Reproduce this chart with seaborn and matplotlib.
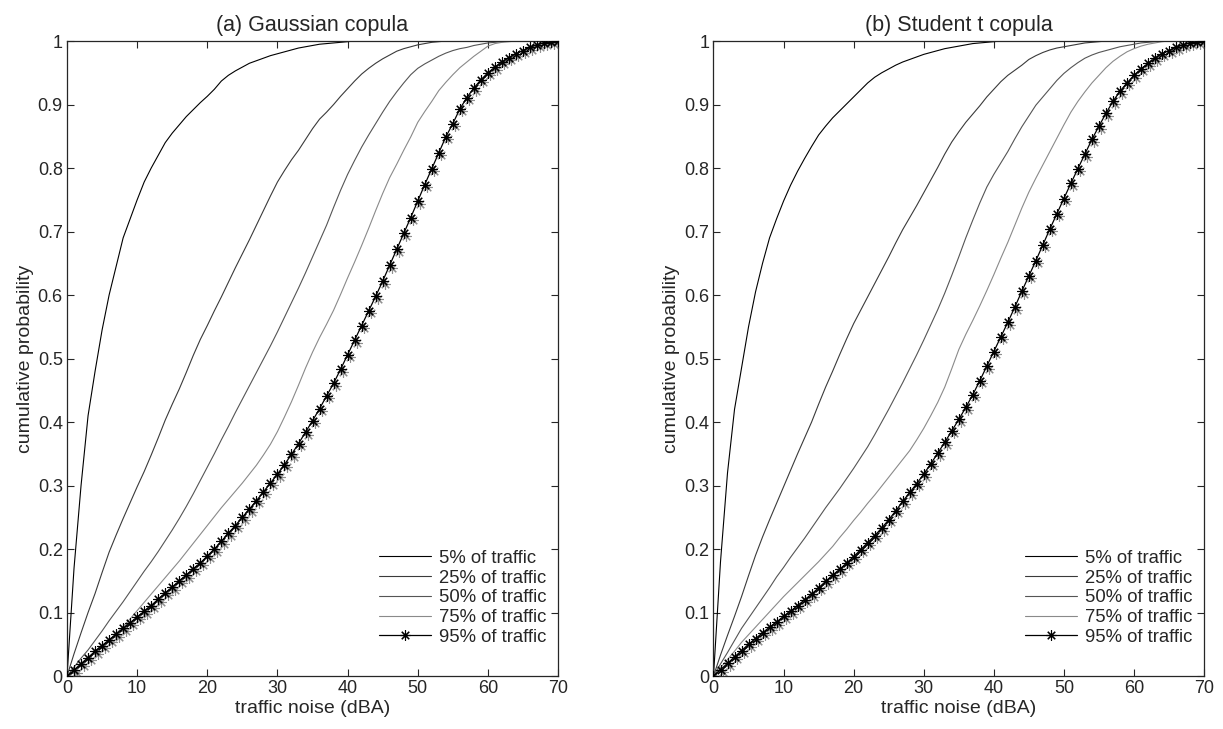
import numpy as np
import matplotlib
matplotlib.use("Agg")
import matplotlib.pyplot as plt
import seaborn as sns
from matplotlib.transforms import offset_copy
from matplotlib.ticker import FuncFormatter

# traffic noise levels (dBA), one sample per dBA
noise_db = np.arange(0, 71)

labels = ["5% of traffic", "25% of traffic", "50% of traffic",
          "75% of traffic", "95% of traffic"]
titles = ["(a) Gaussian copula", "(b) Student t copula"]

# (a) Gaussian copula - cumulative probability
gauss_5 = [0.0, 0.17, 0.30, 0.41, 0.48, 0.545, 0.60, 0.645, 0.69, 0.72,
           0.75, 0.778, 0.80, 0.82, 0.84, 0.855, 0.868, 0.881, 0.892, 0.903,
           0.913, 0.924, 0.937, 0.946, 0.953, 0.959, 0.965, 0.969, 0.973, 0.977,
           0.98, 0.983, 0.986, 0.989, 0.991, 0.993, 0.995, 0.996, 0.997, 0.998,
           0.999, 1.0, 1.0, 1.0, 1.0, 1.0, 1.0, 1.0, 1.0, 1.0,
           1.0, 1.0, 1.0, 1.0, 1.0, 1.0, 1.0, 1.0, 1.0, 1.0,
           1.0, 1.0, 1.0, 1.0, 1.0, 1.0, 1.0, 1.0, 1.0, 1.0,
           1.0]
gauss_25 = [0.0, 0.035, 0.068, 0.10, 0.13, 0.163, 0.195, 0.222, 0.248, 0.273,
            0.298, 0.322, 0.348, 0.375, 0.403, 0.428, 0.452, 0.478, 0.505, 0.53,
            0.552, 0.575, 0.597, 0.62, 0.643, 0.665, 0.687, 0.71, 0.733, 0.756,
            0.778, 0.796, 0.813, 0.828, 0.845, 0.862, 0.877, 0.888, 0.90, 0.913,
            0.925, 0.937, 0.948, 0.957, 0.965, 0.972, 0.978, 0.984, 0.988, 0.991,
            0.994, 0.996, 0.998, 0.999, 1.0, 1.0, 1.0, 1.0, 1.0, 1.0,
            1.0, 1.0, 1.0, 1.0, 1.0, 1.0, 1.0, 1.0, 1.0, 1.0,
            1.0]
gauss_50 = [0.0, 0.014, 0.028, 0.041, 0.056, 0.071, 0.087, 0.102, 0.117, 0.133,
            0.149, 0.165, 0.18, 0.196, 0.213, 0.23, 0.248, 0.267, 0.287, 0.308,
            0.329, 0.35, 0.372, 0.393, 0.415, 0.436, 0.457, 0.478, 0.499, 0.52,
            0.542, 0.565, 0.588, 0.611, 0.635, 0.66, 0.685, 0.71, 0.738, 0.765,
            0.79, 0.812, 0.833, 0.852, 0.87, 0.888, 0.905, 0.92, 0.934, 0.947,
            0.957, 0.964, 0.97, 0.976, 0.981, 0.985, 0.988, 0.99, 0.993, 0.995,
            0.997, 0.998, 0.999, 1.0, 1.0, 1.0, 1.0, 1.0, 1.0, 1.0,
            1.0]
gauss_75 = [0.0, 0.01, 0.02, 0.029, 0.038, 0.047, 0.056, 0.067, 0.078, 0.09,
            0.103, 0.116, 0.129, 0.142, 0.155, 0.168, 0.181, 0.195, 0.209, 0.223,
            0.237, 0.251, 0.265, 0.278, 0.291, 0.304, 0.318, 0.332, 0.348, 0.365,
            0.385, 0.408, 0.432, 0.458, 0.485, 0.51, 0.533, 0.554, 0.576, 0.601,
            0.627, 0.652, 0.678, 0.705, 0.733, 0.76, 0.785, 0.806, 0.828, 0.849,
            0.872, 0.889, 0.905, 0.922, 0.935, 0.947, 0.958, 0.967, 0.976, 0.984,
            0.992, 0.996, 0.998, 0.999, 1.0, 1.0, 1.0, 1.0, 1.0, 1.0,
            1.0]
gauss_95 = [0.0, 0.009, 0.019, 0.029, 0.039, 0.048, 0.057, 0.066, 0.075, 0.084,
            0.093, 0.102, 0.111, 0.121, 0.131, 0.14, 0.15, 0.159, 0.169, 0.178,
            0.189, 0.2, 0.212, 0.225, 0.237, 0.25, 0.263, 0.276, 0.29, 0.304,
            0.318, 0.333, 0.349, 0.366, 0.384, 0.402, 0.421, 0.441, 0.461, 0.483,
            0.506, 0.529, 0.552, 0.575, 0.598, 0.622, 0.647, 0.672, 0.697, 0.722,
            0.748, 0.774, 0.799, 0.824, 0.849, 0.87, 0.893, 0.911, 0.926, 0.939,
            0.95, 0.959, 0.967, 0.974, 0.98, 0.985, 0.99, 0.994, 0.997, 0.999,
            1.0]

# (b) Student t copula
t_5 = [0.0, 0.18, 0.32, 0.42, 0.485, 0.55, 0.605, 0.65, 0.69, 0.72,
       0.748, 0.773, 0.795, 0.815, 0.834, 0.852, 0.866, 0.879, 0.89, 0.901,
       0.912, 0.923, 0.934, 0.943, 0.95, 0.956, 0.962, 0.967, 0.971, 0.975,
       0.979, 0.982, 0.985, 0.988, 0.99, 0.992, 0.994, 0.996, 0.997, 0.998,
       0.999, 1.0, 1.0, 1.0, 1.0, 1.0, 1.0, 1.0, 1.0, 1.0,
       1.0, 1.0, 1.0, 1.0, 1.0, 1.0, 1.0, 1.0, 1.0, 1.0,
       1.0, 1.0, 1.0, 1.0, 1.0, 1.0, 1.0, 1.0, 1.0, 1.0,
       1.0]
t_25 = [0.0, 0.033, 0.064, 0.094, 0.125, 0.158, 0.19, 0.219, 0.246, 0.272,
        0.298, 0.324, 0.35, 0.375, 0.4, 0.428, 0.455, 0.48, 0.506, 0.531,
        0.555, 0.576, 0.597, 0.618, 0.639, 0.66, 0.682, 0.703, 0.722, 0.741,
        0.761, 0.781, 0.801, 0.822, 0.841, 0.857, 0.872, 0.885, 0.898, 0.912,
        0.924, 0.936, 0.946, 0.954, 0.962, 0.971, 0.977, 0.982, 0.986, 0.989,
        0.991, 0.993, 0.995, 0.997, 0.998, 0.999, 1.0, 1.0, 1.0, 1.0,
        1.0, 1.0, 1.0, 1.0, 1.0, 1.0, 1.0, 1.0, 1.0, 1.0,
        1.0]
t_50 = [0.0, 0.019, 0.037, 0.056, 0.075, 0.091, 0.107, 0.123, 0.139, 0.156,
        0.171, 0.187, 0.202, 0.217, 0.233, 0.249, 0.265, 0.28, 0.295, 0.311,
        0.327, 0.344, 0.361, 0.38, 0.4, 0.42, 0.441, 0.462, 0.484, 0.506,
        0.529, 0.553, 0.577, 0.603, 0.631, 0.66, 0.69, 0.718, 0.745, 0.77,
        0.79, 0.808, 0.826, 0.846, 0.865, 0.882, 0.899, 0.912, 0.925, 0.938,
        0.949, 0.958, 0.966, 0.973, 0.978, 0.982, 0.985, 0.988, 0.991, 0.993,
        0.995, 0.997, 0.998, 0.999, 1.0, 1.0, 1.0, 1.0, 1.0, 1.0,
        1.0]
t_75 = [0.0, 0.013, 0.026, 0.039, 0.053, 0.065, 0.077, 0.089, 0.101, 0.113,
        0.125, 0.136, 0.147, 0.158, 0.169, 0.18, 0.192, 0.204, 0.218, 0.231,
        0.245, 0.258, 0.272, 0.285, 0.299, 0.313, 0.327, 0.341, 0.355, 0.372,
        0.39, 0.41, 0.431, 0.455, 0.484, 0.514, 0.538, 0.56, 0.583, 0.607,
        0.632, 0.658, 0.683, 0.71, 0.737, 0.762, 0.784, 0.805, 0.826, 0.847,
        0.868, 0.888, 0.905, 0.92, 0.934, 0.946, 0.958, 0.968, 0.976, 0.983,
        0.988, 0.992, 0.995, 0.997, 0.999, 1.0, 1.0, 1.0, 1.0, 1.0,
        1.0]
t_95 = [0.0, 0.01, 0.02, 0.03, 0.04, 0.05, 0.059, 0.068, 0.077, 0.085,
        0.094, 0.102, 0.111, 0.12, 0.129, 0.139, 0.149, 0.159, 0.168, 0.178,
        0.188, 0.199, 0.21, 0.221, 0.233, 0.246, 0.26, 0.275, 0.289, 0.303,
        0.318, 0.334, 0.351, 0.368, 0.386, 0.404, 0.423, 0.443, 0.465, 0.488,
        0.511, 0.534, 0.557, 0.581, 0.606, 0.63, 0.654, 0.679, 0.704, 0.728,
        0.752, 0.776, 0.799, 0.822, 0.845, 0.866, 0.886, 0.905, 0.921, 0.934,
        0.946, 0.956, 0.965, 0.973, 0.98, 0.985, 0.99, 0.994, 0.997, 0.999,
        1.0]

panels = [
    [gauss_5, gauss_25, gauss_50, gauss_75, gauss_95],
    [t_5, t_25, t_50, t_75, t_95],
]

sns.set_style("ticks")
plt.rcParams["font.family"] = ["Liberation Sans", "DejaVu Sans"]

line_colors = ["#000000", "#3a3a3a", "#555555", "#8a8a8a", "#000000"]
asterisk = (8, 2, 0)

fig = plt.figure(figsize=(12.23, 7.29), dpi=100)
ax_left = fig.add_axes([0.0548, 0.0727, 0.4015, 0.871])
ax_right = fig.add_axes([0.5834, 0.0727, 0.4011, 0.871])

for ax, title, curves in zip([ax_left, ax_right], titles, panels):
    # grey ghost of the asterisks, slightly shifted like in the original
    shadow = offset_copy(ax.transData, fig=fig, x=2.5, y=-2.5, units="dots")
    ax.plot(noise_db, curves[4], linestyle="none", marker=asterisk,
            markersize=7.5, markeredgewidth=0.8, color="#909090",
            transform=shadow, zorder=1)

    for i, (vals, lab) in enumerate(zip(curves, labels)):
        if i == 4:
            sns.lineplot(x=noise_db, y=vals, ax=ax, color=line_colors[i],
                         linewidth=0.9, marker=asterisk, markersize=7.5,
                         markeredgewidth=0.8, markeredgecolor="k",
                         label=lab, zorder=3)
        else:
            sns.lineplot(x=noise_db, y=vals, ax=ax, color=line_colors[i],
                         linewidth=0.8, label=lab, zorder=2)

    ax.set_xlim(0, 70)
    ax.set_ylim(0, 1)
    ax.set_xticks(np.arange(0, 71, 10))
    ax.set_yticks(np.arange(0, 1.01, 0.1))
    ax.yaxis.set_major_formatter(FuncFormatter(lambda v, p: f"{v:g}"))
    ax.tick_params(direction="in", top=True, right=True, length=5,
                   width=0.8, labelsize=13, pad=3)
    for sp in ax.spines.values():
        sp.set_linewidth(0.9)
        sp.set_visible(True)

    ax.set_title(title, fontsize=15.5, pad=7)
    ax.set_xlabel("traffic noise (dBA)", fontsize=14, labelpad=2)
    ax.set_ylabel("cumulative probability", fontsize=14, labelpad=3)

    ax.legend(loc="lower right", bbox_to_anchor=(1.0, 0.03), frameon=False,
              fontsize=13.3, handlelength=2.8, handletextpad=0.45,
              labelspacing=0.15, borderaxespad=0.2, numpoints=1)

fig.savefig("out.png", dpi=100)
